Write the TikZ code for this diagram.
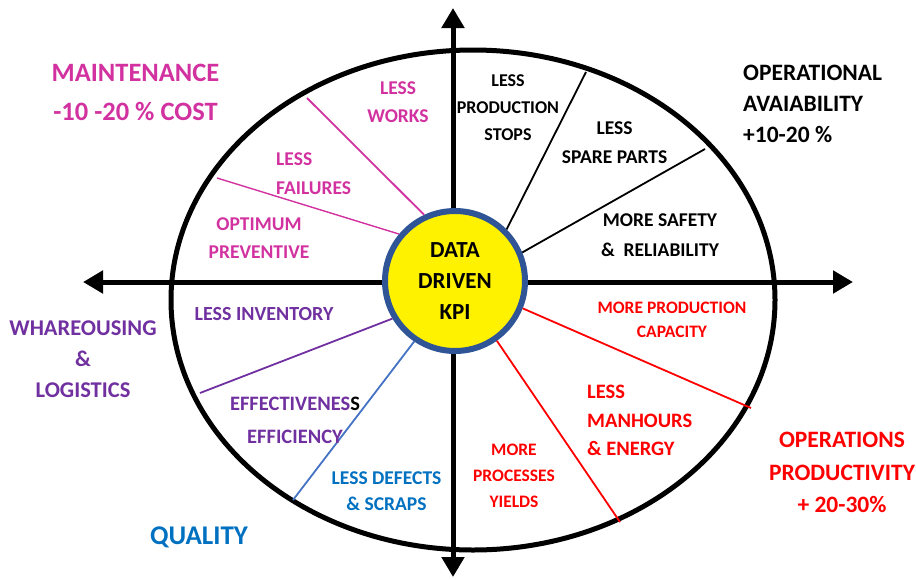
\documentclass[tikz,border=0pt]{standalone}
\usepackage{fontspec}
\setmainfont{Carlito}
\usetikzlibrary{arrows.meta}

\definecolor{maint}{RGB}{210,50,160}
\definecolor{ware}{RGB}{112,48,160}
\definecolor{qual}{RGB}{0,112,192}
\definecolor{qualline}{RGB}{68,114,196}
\definecolor{prod}{RGB}{255,0,0}
\definecolor{ring}{RGB}{47,85,151}

\tikzset{
  axis/.style={line width=5pt, {Triangle[length=20pt,width=22pt]}-{Triangle[length=20pt,width=22pt]}},
  rim/.style={line width=5pt},
  spoke/.style={line width=1.8pt},
  txt/.style={align=center, inner sep=0pt},
  lbl/.style={txt, font=\bfseries\fontsize{19.5}{28.5}\selectfont},
  lblsm/.style={txt, font=\bfseries\fontsize{17.5}{26}\selectfont},
  head/.style={txt, font=\bfseries\fontsize{23.5}{31}\selectfont},
  hub/.style={circle, draw=ring, fill=yellow, line width=6pt, minimum size=140pt,
    inner sep=0pt, align=center, font=\bfseries\fontsize{23}{31}\selectfont}
}

\begin{document}
\begin{tikzpicture}[x=1pt, y=-1pt]
    \useasboundingbox (0,0) rectangle (916,579);
    % axes ends
    \coordinate (top)    at (453,8);
    \coordinate (bottom) at (453,577);
    \coordinate (left)   at (83,282);
    \coordinate (right)  at (853,282);
    % outer ends of the spokes
    \coordinate (w1) at (307,98);
    \coordinate (w2) at (217,178);
    \coordinate (a1) at (586,72);
    \coordinate (a2) at (705,149);
    \coordinate (l1) at (200,393);
    \coordinate (q1) at (293,500);
    \coordinate (p1) at (751,408);
    \coordinate (p2) at (620,522);

    \draw [rim] (473,300) ellipse [x radius=302, y radius=250];
    \draw [axis] (top) -- (bottom);
    \draw [axis] (left) -- (right);

    \node [hub] (kpi) at (455,281) {DATA\\DRIVEN\\KPI};

    \draw [spoke, maint] (w1) -- (kpi.115.6);
    \draw [spoke, maint, line width=1.4pt] (w2) -- (kpi.140.4);
    \draw [spoke] (a1) -- (kpi.45);
    \draw [spoke] (a2) -- (kpi.23.5);
    \draw [spoke, ware] (l1) -- (kpi.211);
    \draw [spoke, qualline] (q1) -- (kpi.236.3);
    \draw [spoke, prod] (p1) -- (kpi.338.4);
    \draw [spoke, prod] (p2) -- (kpi.305);

    % maintenance
    \node [txt, maint, font=\bfseries\fontsize{26.5}{39}\selectfont] (maintenance) at (135.5,92.5) {MAINTENANCE\\ -10 -20 \% COST};
    \node [lbl, maint] (works) at (398,102) {LESS\\WORKS};
    \node [lbl, maint, align=left, anchor=west] (failures) at (276,173.5) {LESS\\FAILURES};
    \node [lbl, maint] (preventive) at (259,238) {OPTIMUM\\PREVENTIVE};
    % availability
    \node [lbl, font=\bfseries\fontsize{18}{27}\selectfont] (stops) at (508,108) {LESS\\PRODUCTION\\STOPS};
    \node [lbl] (spare) at (614.5,142.5) {LESS\\SPARE PARTS};
    \node [lbl, font=\bfseries\fontsize{19.5}{30}\selectfont] (safety) at (660,235) {MORE SAFETY\\\&\ \ RELIABILITY};
    \node [head, align=left, anchor=west] (availability) at (743,104) {OPERATIONAL\\AVAIABILITY\\+10-20 \%};
    % warehousing
    \node [lbl, ware, font=\bfseries\fontsize{20}{28}\selectfont] (inventory) at (264,314) {LESS INVENTORY};
    \node [head, ware, font=\bfseries\fontsize{22.5}{31}\selectfont] (warehousing) at (83,359) {WHAREOUSING\\\&\\LOGISTICS};
    \node [lbl, ware, font=\bfseries\fontsize{20.5}{33}\selectfont] (effectiveness) at (295,420.5) {EFFECTIVENES\textcolor{black}{S}\\EFFICIENCY};
    % quality
    \node [lbl, qual, font=\bfseries\fontsize{19.5}{26}\selectfont] (defects) at (386.5,491) {LESS DEFECTS\\\& SCRAPS};
    \node [txt, qual, font=\bfseries\fontsize{27}{32}\selectfont] (quality) at (199,537) {QUALITY};
    % productivity
    \node [lblsm, prod, font=\bfseries\fontsize{17.5}{24}\selectfont] (capacity) at (672,320) {MORE PRODUCTION\\CAPACITY};
    \node [lbl, prod, align=left, anchor=west, font=\bfseries\fontsize{20.5}{28.5}\selectfont] (manhours) at (587,420.5) {LESS\\MANHOURS\\\& ENERGY};
    \node [lblsm] [prod] (yields) at (514,475.5) {MORE\\PROCESSES\\YIELDS};
    \node [head, prod, font=\bfseries\fontsize{23.5}{32.5}\selectfont] (productivity) at (842,472.5) {OPERATIONS\\PRODUCTIVITY\\+ 20-30\%};
\end{tikzpicture}
\end{document}
